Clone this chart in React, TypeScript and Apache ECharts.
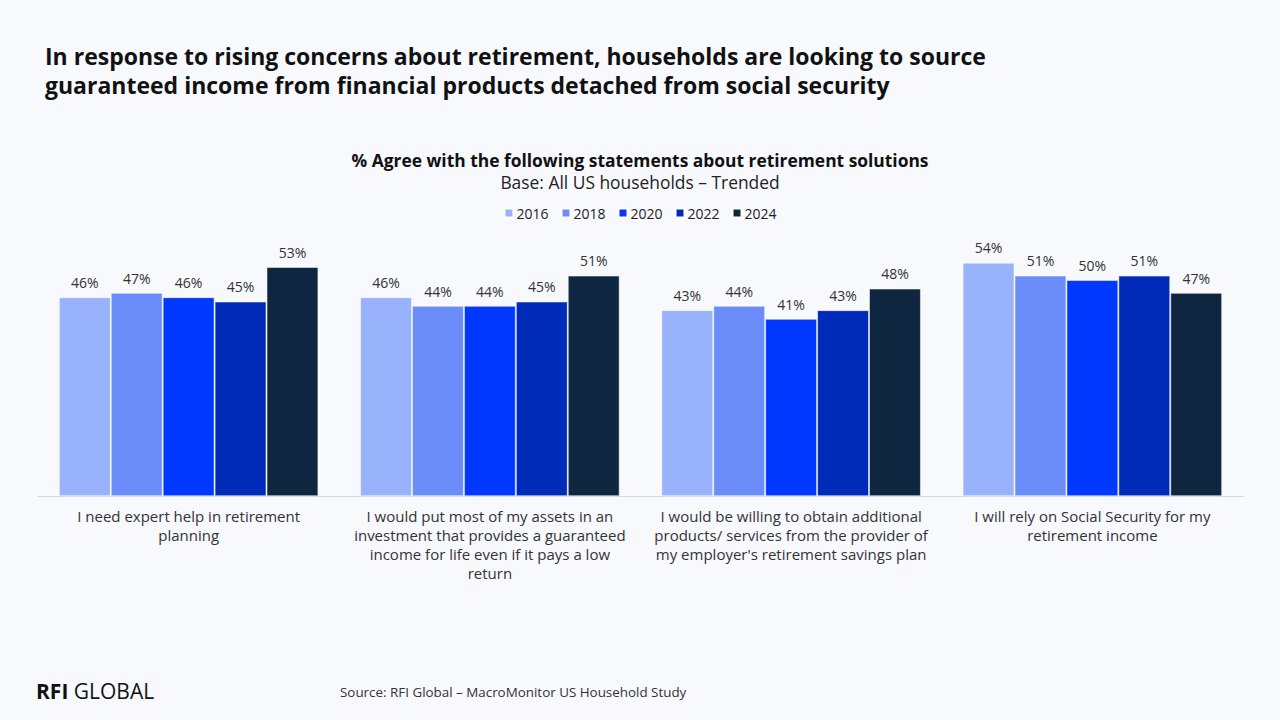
import React, { useEffect, useRef } from "react";
import * as echarts from "echarts";

const categories = [
  "I need expert help in retirement\nplanning",
  "I would put most of my assets in an\ninvestment that provides a guaranteed\nincome for life even if it pays a low\nreturn",
  "I would be willing to obtain additional\nproducts/ services from the provider of\nmy employer's retirement savings plan",
  "I will rely on Social Security for my\nretirement income",
];
const years = ["2016", "2018", "2020", "2022", "2024"];
const values2016 = [46, 46, 43, 54];
const values2018 = [47, 44, 44, 51];
const values2020 = [46, 44, 41, 50];
const values2022 = [45, 45, 43, 51];
const values2024 = [53, 51, 48, 47];
const seriesValues = [values2016, values2018, values2020, values2022, values2024];
const colors = ["#98B2FB", "#6A8DF9", "#0038FF", "#002AB8", "#0F2640"];

const FONT = "'Open Sans', Lato, sans-serif";

export default function App() {
  const ref = useRef<HTMLDivElement>(null);
  useEffect(() => {
    const chart = echarts.init(ref.current!, null, { renderer: "svg" });
    chart.setOption({
      animation: false,
      backgroundColor: "#F7F9FD",
      textStyle: { fontFamily: FONT },
      title: [
        {
          text: "In response to rising concerns about retirement, households are looking to source\nguaranteed income from financial products detached from social security",
          left: 40,
          top: 36,
          textStyle: { fontSize: 23, fontWeight: "bold", color: "#111", lineHeight: 29, fontFamily: FONT },
        },
        {
          text: "% Agree with the following statements about retirement solutions",
          left: "center",
          top: 146,
          textStyle: { fontSize: 17.4, fontWeight: "bold", color: "#111", fontFamily: FONT },
        },
        {
          text: "Base: All US households \u2013 Trended",
          left: "center",
          top: 168,
          textStyle: { fontSize: 17.4, fontWeight: "normal", color: "#222", fontFamily: FONT },
        },
      ],
      legend: {
        data: years,
        top: 201,
        left: "center",
        itemWidth: 9,
        itemHeight: 9,
        itemGap: 12,
        icon: "rect",
        textStyle: { fontSize: 14, color: "#222", padding: [0, 0, 0, -2] },
      },
      grid: { left: 38, right: 37, top: 237, bottom: 224 },
      xAxis: {
        type: "category",
        data: categories,
        axisLine: { lineStyle: { color: "#D5D8DE", width: 1 } },
        axisTick: { show: false },
        axisLabel: {
          fontSize: 15,
          color: "#333",
          lineHeight: 19,
          margin: 10,
          interval: 0,
        },
      },
      yAxis: {
        type: "value",
        min: 0,
        max: 60,
        show: false,
        splitLine: { show: false },
      },
      series: years.map((y, i) => ({
        name: y,
        type: "bar",
        data: seriesValues[i],
        barCategoryGap: "14%",
        barGap: "1%",
        itemStyle: { color: colors[i], borderColor: "#FFFFFF", borderWidth: 0.5 },
        label: {
          show: true,
          position: "top",
          distance: 8,
          formatter: "{c}%",
          fontSize: 14,
          color: "#333",
        },
      })),
      graphic: [
        {
          type: "text",
          left: 36,
          top: 680,
          style: {
            text: "{b|RFI}{l| GLOBAL}",
            rich: {
              b: { fontSize: 21, fontWeight: "bold", fill: "#111", fontFamily: FONT },
              l: { fontSize: 21, fontWeight: 400, fill: "#111", fontFamily: FONT },
            },
          },
        },
        {
          type: "text",
          left: 340,
          top: 685,
          style: {
            text: "Source: RFI Global \u2013 MacroMonitor US Household Study",
            fontSize: 13.4,
            fill: "#333",
            fontFamily: FONT,
          },
        },
      ],
    });
    return () => chart.dispose();
  }, []);
  return <div ref={ref} style={{ width: 1280, height: 720, position: "fixed", left: 0, top: 0 }} />;
}
